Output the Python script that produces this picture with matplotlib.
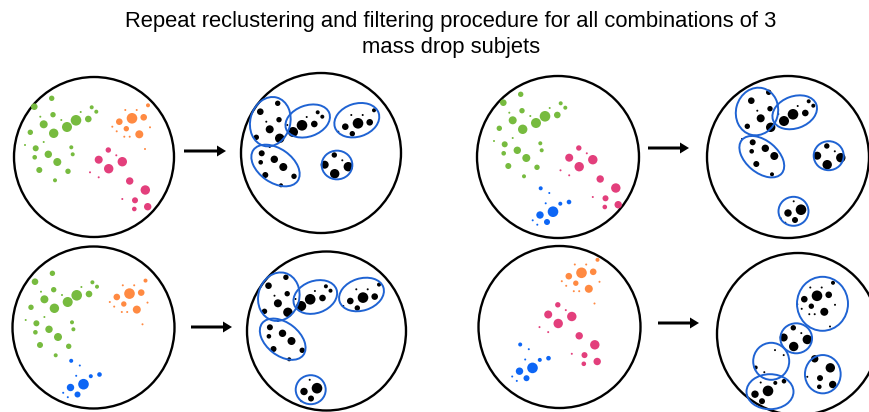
import numpy as np
import matplotlib
matplotlib.use("Agg")
import matplotlib.pyplot as plt
from matplotlib.patches import Circle, Ellipse

# particle clusters (pixel coords, measured in their reference panel)
green_x = [51.7, 34.3, 91.7, 96.3, 53.0, 80.7, 40.3, 61.3, 76.0, 88.3, 43.7, 67.0, 53.7,
           30.3, 25.0, 43.7, 35.7, 71.3, 34.7, 48.3, 72.7, 57.3, 39.3, 68.0, 55.0]
green_y = [98.3, 106.7, 107.3, 111.7, 114.7, 112.0, 116.7, 120.0, 120.3, 119.0, 124.3, 127.0, 133.3,
           132.3, 145.0, 142.0, 148.3, 147.3, 157.3, 154.3, 154.3, 162.0, 170.0, 171.3, 180.3]
green_r = [2.7, 3.3, 2.0, 2.0, 2.7, 1.0, 1.0, 1.0, 5.3, 3.3, 4.0, 5.0, 4.7,
           2.7, 1.0, 1.0, 3.0, 2.0, 2.3, 3.7, 2.0, 4.0, 3.0, 2.7, 2.0]

orange_x = [148.0, 125.3, 136.7, 132.0, 143.7, 119.3, 112.3, 150.0, 126.3, 116.7, 139.3, 124.3, 129.7, 145.0]
orange_y = [105.3, 110.0, 110.0, 118.3, 117.3, 121.7, 126.7, 127.3, 128.7, 131.3, 134.3, 136.7, 136.7, 149.0]
orange_r = [2.0, 1.0, 1.0, 5.3, 3.3, 3.3, 1.0, 1.0, 2.7, 1.0, 4.0, 1.0, 1.0, 1.0]

pink_x = [108.3, 116.3, 98.7, 122.3, 108.7, 90.0, 98.7, 129.7, 145.3, 122.3, 135.0, 134.3, 147.7]
pink_y = [150.0, 155.3, 159.7, 161.7, 168.7, 172.3, 177.3, 181.0, 190.0, 199.0, 200.3, 209.0, 206.7]
pink_r = [2.7, 1.0, 4.0, 4.7, 4.7, 1.0, 1.0, 3.7, 4.7, 1.0, 3.0, 2.3, 3.7]

blue_x = [540.7, 549.3, 569.0, 560.3, 545.7, 553.0, 540.0, 532.7, 537.3, 547.0]
blue_y = [188.3, 193.0, 202.0, 203.7, 203.3, 211.7, 215.0, 220.3, 224.7, 222.0]
blue_r = [2.0, 1.0, 2.3, 2.0, 1.0, 5.3, 3.7, 1.0, 1.0, 3.0]

clusters = {
    "green": (green_x, green_y, green_r, "#77bb3f"),
    "orange": (orange_x, orange_y, orange_r, "#ff8a42"),
    "pink": (pink_x, pink_y, pink_r, "#e33f7c"),
    "blue": (blue_x, blue_y, blue_r, "#0d66f5"),
}

# which clusters sit in each coloured panel, and their shift
panel_clusters = [
    {"green": (0, 0), "orange": (0, 0), "pink": (0, 0)},
    {"green": (469, -4), "pink": (470.5, -2), "blue": (0, 0)},
    {"green": (0.7, 175), "orange": (-2.5, 175.3), "blue": (-469.5, 172.5)},
    {"orange": (449.5, 154.5), "pink": (449.5, 154.8), "blue": (-20.5, 156.2)},
]
# shift from coloured panel to its reclustered copy
recluster_shift = [(226, 5), (248, -2), (233.5, 4), (235.5, 23)]

# big event circles: colored panel, reclustered panel
circle_cx = [94, 321, 558, 788, 93.5, 326.5, 559.5, 798]
circle_cy = [157, 153, 157, 157, 327.5, 331, 327, 334]
circle_r = [80, 80, 81, 81, 81, 79.5, 81, 81]

# subjet ellipses per reclustered panel: (cx, cy, width, height, angle)
subjets = [
    [(270.3, 121.7, 40, 50, 15), (307.7, 121, 46, 31, -20), (356.8, 120.2, 46, 33, -18),
     (275.5, 165.5, 54, 34, 35), (337, 165, 30.7, 28.7, 0)],
    [(757, 111.5, 42, 48, 15), (794.7, 112.3, 46, 32, -20), (761.8, 156.7, 52, 32, 40),
     (828.7, 155.7, 30, 29, 0), (793.5, 211.3, 30, 29, 0)],
    [(278.8, 296.7, 41, 49, 15), (315.3, 297, 45, 32, -20), (361.5, 294.5, 46, 32, -18),
     (282.7, 339.2, 52, 33, 38), (310.7, 389.7, 30, 29, 0)],
    [(822.5, 303.8, 51, 54, 0), (796.2, 338.3, 31.7, 30, 0), (771.2, 361.3, 36, 37, 0),
     (770, 391.7, 47, 35, 0), (822.8, 374.2, 35.7, 38.3, 0)],
]

arrow_x0 = [184, 648, 191, 658]
arrow_x1 = [226, 689, 232, 699]
arrow_y = [151, 148, 327, 323]

title_lines = ["Repeat reclustering and filtering procedure for all combinations of 3",
               "mass drop subjets"]


def inside(px, py, ell, tol=1.05):
    cx, cy, w, h, a = ell
    t = np.deg2rad(a)
    dx, dy = px - cx, py - cy
    u = dx * np.cos(t) + dy * np.sin(t)
    v = -dx * np.sin(t) + dy * np.cos(t)
    return (u / (w / 2)) ** 2 + (v / (h / 2)) ** 2 <= tol


fig = plt.figure(figsize=(8.69, 4.12), dpi=100)
ax = fig.add_axes([0, 0, 1, 1])
ax.set_xlim(0, 869)
ax.set_ylim(412, 0)
ax.axis("off")

for cx, cy, r in zip(circle_cx, circle_cy, circle_r):
    ax.add_patch(Circle((cx, cy), r, fill=False, ec="black", lw=1.7, zorder=1))

for i, pc in enumerate(panel_clusters):
    sx, sy = recluster_shift[i]
    for name, (ox, oy) in pc.items():
        xs, ys, rs, col = clusters[name]
        for x, y, r in zip(xs, ys, rs):
            ax.add_patch(Circle((x + ox, y + oy), r, color=col, lw=0, zorder=2))
            bx, by = x + ox + sx, y + oy + sy
            if any(inside(bx, by, e) for e in subjets[i]):
                ax.add_patch(Circle((bx, by), r, color="black", lw=0, zorder=2))
    for cx, cy, w, h, a in subjets[i]:
        ax.add_patch(Ellipse((cx, cy), w, h, angle=a, fill=False, ec="#1f63d3", lw=1.4, zorder=3))

for x0, x1, y in zip(arrow_x0, arrow_x1, arrow_y):
    ax.arrow(x0, y, x1 - x0, 0, width=3, head_width=11, head_length=9,
             length_includes_head=True, color="black", lw=0)

ax.text(451, 26.7, title_lines[0], ha="center", va="baseline",
        fontsize=15.8, family="Liberation Sans")
ax.text(451, 52.7, title_lines[1], ha="center", va="baseline",
        fontsize=15.8, family="Liberation Sans")

fig.savefig("out.png", dpi=100)
